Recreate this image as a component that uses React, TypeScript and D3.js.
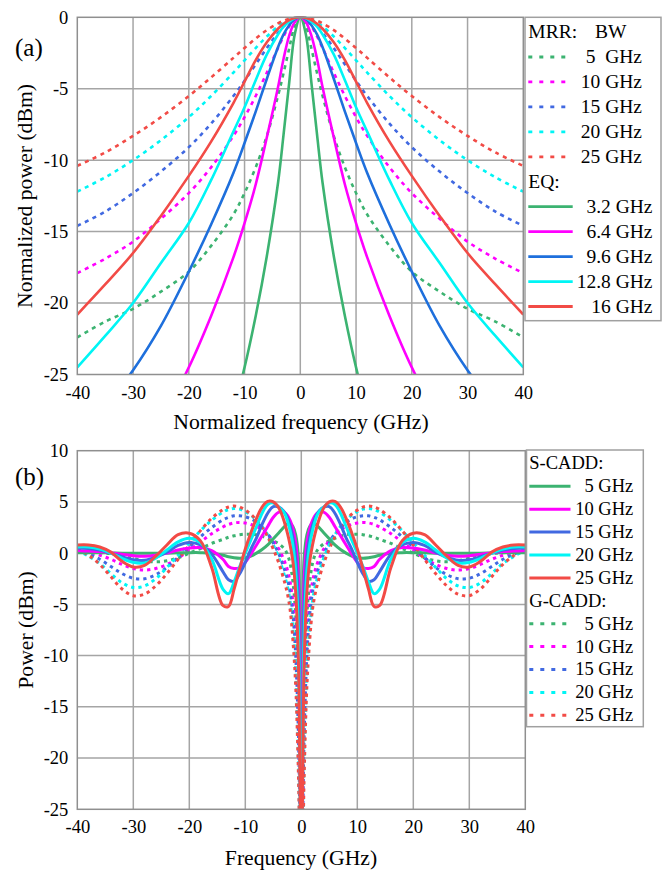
import React, { useEffect, useRef } from 'react';
import * as d3 from 'd3';

// ---- panel (a): normalized power vs normalized frequency ----
const freqA = [-40, -35, -30, -25, -20, -16, -12, -10, -8, -6, -4, -3, -2, -1, 0, 1, 2, 3, 4, 6, 8, 10, 12, 16, 20, 25, 30, 35, 40];

// MRR responses (dotted), BW 5..25 GHz
const mrr5 = [-22.4, -21.3, -20.4, -19.2, -17.8, -16.0, -13.8, -12.3, -10.5, -8.3, -5.5, -3.9, -2.2, -0.6, 0, -0.6, -2.2, -3.9, -5.5, -8.3, -10.5, -12.3, -13.8, -16.0, -17.8, -19.2, -20.4, -21.3, -22.4];
const mrr10 = [-17.9, -16.9, -15.7, -14.1, -12.3, -10.5, -8.3, -6.99, -5.51, -3.87, -2.15, -1.34, -0.64, -0.17, 0, -0.17, -0.64, -1.34, -2.15, -3.87, -5.51, -6.99, -8.3, -10.5, -12.3, -14.1, -15.7, -16.9, -17.9];
const mrr15 = [-14.6, -13.6, -12.3, -10.8, -9.09, -7.44, -5.51, -4.44, -3.3, -2.15, -1.09, -0.64, -0.3, -0.08, 0, -0.08, -0.3, -0.64, -1.09, -2.15, -3.3, -4.44, -5.51, -7.44, -9.09, -10.8, -12.3, -13.6, -14.6];
const mrr20 = [-12.2, -11.2, -10.0, -8.6, -6.99, -5.51, -3.87, -3.01, -2.15, -1.34, -0.64, -0.37, -0.17, -0.04, 0, -0.04, -0.17, -0.37, -0.64, -1.34, -2.15, -3.01, -3.87, -5.51, -6.99, -8.6, -10.0, -11.2, -12.2];
const mrr25 = [-10.4, -9.46, -8.3, -6.99, -5.51, -4.21, -2.84, -2.15, -1.49, -0.9, -0.42, -0.24, -0.11, -0.03, 0, -0.03, -0.11, -0.24, -0.42, -0.9, -1.49, -2.15, -2.84, -4.21, -5.51, -6.99, -8.3, -9.46, -10.4];

// EQ responses (solid)
const eq32 = [-44, -42, -40, -38, -35, -32, -27.5, -24.5, -20.9, -16.7, -11.6, -8.2, -4.6, -1.2, 0, -1.2, -4.6, -8.2, -11.6, -16.7, -20.9, -24.5, -27.5, -32, -35, -38, -40, -42, -44];
const eq64 = [-36, -33.5, -31, -28.2, -24.5, -20.9, -16.8, -14.4, -11.7, -8.4, -4.9, -2.9, -1.3, -0.35, 0, -0.35, -1.3, -2.9, -4.9, -8.4, -11.7, -14.4, -16.8, -20.9, -24.5, -28.2, -31, -33.5, -36];
const eq96 = [-29.5, -27.2, -24.7, -21.6, -17.8, -14.5, -10.9, -8.8, -6.6, -4.3, -2.1, -1.2, -0.55, -0.13, 0, -0.13, -0.55, -1.2, -2.1, -4.3, -6.6, -8.8, -10.9, -14.5, -17.8, -21.6, -24.7, -27.2, -29.5];
const eq128 = [-24.5, -22.3, -20.0, -17.2, -14.4, -11.4, -8.0, -6.3, -4.4, -2.6, -1.2, -0.65, -0.3, -0.07, 0, -0.07, -0.3, -0.65, -1.2, -2.6, -4.4, -6.3, -8.0, -11.4, -14.4, -17.2, -20.0, -22.3, -24.5];
const eq16 = [-20.8, -18.7, -16.5, -13.9, -11.1, -8.7, -6.0, -4.5, -3.0, -1.75, -0.8, -0.45, -0.2, -0.05, 0, -0.05, -0.2, -0.45, -0.8, -1.75, -3.0, -4.5, -6.0, -8.7, -11.1, -13.9, -16.5, -18.7, -20.8];

// ---- panel (b): power vs frequency ----
const freqB = [-40, -38, -36, -34, -32, -30, -28, -26, -24, -22, -20, -18, -16, -14, -13, -12, -11, -10, -9, -8, -7, -6, -5, -4, -3, -2.5, -2, -1.5, -1, -0.5, -0.25, 0,
  0.25, 0.5, 1, 1.5, 2, 2.5, 3, 4, 5, 6, 7, 8, 9, 10, 11, 12, 13, 14, 16, 18, 20, 22, 24, 26, 28, 30, 32, 34, 36, 38, 40];

// S-CADD (solid)
const sCadd5 = [0.05, 0.05, 0.04, 0.02, 0, 0, 0, 0, 0, 0.03, 0.05, 0.05, 0, -0.2, -0.35, -0.45, -0.5, -0.45, -0.3, 0, 0.35, 0.8, 1.4, 2.0, 2.6, 2.85, 2.9, 2.6, 1.8, -0.5, -8, -35,
  -8, -0.5, 1.8, 2.6, 2.9, 2.85, 2.6, 2.0, 1.4, 0.8, 0.35, 0, -0.3, -0.45, -0.5, -0.45, -0.35, -0.2, 0, 0.05, 0.05, 0.03, 0, 0, 0, 0, 0, 0.02, 0.04, 0.05, 0.05];
const sCadd10 = [0.25, 0.2, 0.15, 0.05, -0.1, -0.25, -0.3, -0.2, 0.0, 0.3, 0.5, 0.55, 0.25, -0.6, -1.3, -1.5, -1.4, -0.9, -0.1, 0.8, 1.7, 2.6, 3.5, 4.0, 3.95, 3.7, 3.2, 2.4, 1.0, -2.5, -14, -35,
  -14, -2.5, 1.0, 2.4, 3.2, 3.7, 3.95, 4.0, 3.5, 2.6, 1.7, 0.8, -0.1, -0.9, -1.4, -1.5, -1.3, -0.6, 0.25, 0.55, 0.5, 0.3, 0.0, -0.2, -0.3, -0.25, -0.1, 0.05, 0.15, 0.2, 0.25];
const sCadd15 = [0.5, 0.45, 0.3, 0.0, -0.35, -0.65, -0.7, -0.4, 0.1, 0.75, 1.05, 0.8, -0.1, -1.8, -2.6, -2.75, -2.0, -0.9, 0.4, 1.5, 2.8, 3.9, 4.55, 4.5, 4.0, 3.5, 2.7, 1.6, -0.3, -5, -17, -35,
  -17, -5, -0.3, 1.6, 2.7, 3.5, 4.0, 4.5, 4.55, 3.9, 2.8, 1.5, 0.4, -0.9, -2.0, -2.75, -2.6, -1.8, -0.1, 0.8, 1.05, 0.75, 0.1, -0.4, -0.7, -0.65, -0.35, 0.0, 0.3, 0.45, 0.5];
const sCadd20 = [0.6, 0.6, 0.4, 0.0, -0.5, -0.9, -0.95, -0.5, 0.3, 1.1, 1.45, 1.0, -0.6, -3.5, -3.95, -2.8, -1.3, 0.0, 1.3, 2.6, 3.9, 4.75, 4.9, 4.5, 3.9, 3.2, 2.2, 0.8, -1.8, -8, -20, -35,
  -20, -8, -1.8, 0.8, 2.2, 3.2, 3.9, 4.5, 4.9, 4.75, 3.9, 2.6, 1.3, 0.0, -1.3, -2.8, -3.95, -3.5, -0.6, 1.0, 1.45, 1.1, 0.3, -0.5, -0.95, -0.9, -0.5, 0.0, 0.4, 0.6, 0.6];
const sCadd25 = [0.8, 0.8, 0.6, 0.1, -0.8, -1.35, -1.2, -0.3, 0.8, 1.8, 1.95, 1.2, -1.4, -5.1, -5.2, -3.5, -1.5, 0.4, 2.0, 3.4, 4.5, 5.05, 5.0, 4.4, 3.0, 2.0, 0.8, -0.8, -3.8, -11, -22, -35,
  -22, -11, -3.8, -0.8, 0.8, 2.0, 3.0, 4.4, 5.0, 5.05, 4.5, 3.4, 2.0, 0.4, -1.5, -3.5, -5.2, -5.1, -1.4, 1.2, 1.95, 1.8, 0.8, -0.3, -1.2, -1.35, -0.8, 0.1, 0.6, 0.8, 0.8];

// G-CADD (dotted)
const gCadd5 = [0.15, 0.1, 0.05, -0.05, -0.25, -0.5, -0.75, -0.85, -0.75, -0.45, 0.0, 0.45, 0.95, 1.35, 1.55, 1.7, 1.8, 1.85, 1.85, 1.8, 1.65, 1.45, 1.2, 0.9, 0.4, -0.1, -1.0, -2.8, -6, -13, -22, -35,
  -22, -13, -6, -2.8, -1.0, -0.1, 0.4, 0.9, 1.2, 1.45, 1.65, 1.8, 1.85, 1.85, 1.8, 1.7, 1.55, 1.35, 0.95, 0.45, 0.0, -0.45, -0.75, -0.85, -0.75, -0.5, -0.25, -0.05, 0.05, 0.1, 0.15];
const gCadd10 = [0.25, 0.1, -0.2, -0.6, -1.1, -1.5, -1.65, -1.5, -1.1, -0.5, 0.3, 1.1, 1.9, 2.55, 2.8, 2.95, 3.0, 2.95, 2.8, 2.6, 2.3, 1.8, 1.2, 0.4, -0.8, -1.6, -2.8, -4.8, -8.5, -16, -24, -35,
  -24, -16, -8.5, -4.8, -2.8, -1.6, -0.8, 0.4, 1.2, 1.8, 2.3, 2.6, 2.8, 2.95, 3.0, 2.95, 2.8, 2.55, 1.9, 1.1, 0.3, -0.5, -1.1, -1.5, -1.65, -1.5, -1.1, -0.6, -0.2, 0.1, 0.25];
const gCadd15 = [0.3, -0.1, -0.6, -1.3, -2.0, -2.45, -2.5, -2.1, -1.4, -0.4, 0.6, 1.6, 2.5, 3.25, 3.5, 3.65, 3.65, 3.55, 3.35, 3.0, 2.5, 1.9, 1.0, -0.1, -1.6, -2.5, -3.8, -6.0, -10, -18, -26, -35,
  -26, -18, -10, -6.0, -3.8, -2.5, -1.6, -0.1, 1.0, 1.9, 2.5, 3.0, 3.35, 3.55, 3.65, 3.65, 3.5, 3.25, 2.5, 1.6, 0.6, -0.4, -1.4, -2.1, -2.5, -2.45, -2.0, -1.3, -0.6, -0.1, 0.3];
const gCadd20 = [0.3, -0.3, -1.0, -2.0, -2.9, -3.35, -3.2, -2.5, -1.4, -0.2, 1.0, 2.2, 3.2, 4.0, 4.25, 4.35, 4.3, 4.05, 3.7, 3.2, 2.6, 1.8, 0.8, -0.5, -2.2, -3.2, -4.7, -7.3, -11.5, -20, -28, -35,
  -28, -20, -11.5, -7.3, -4.7, -3.2, -2.2, -0.5, 0.8, 1.8, 2.6, 3.2, 3.7, 4.05, 4.3, 4.35, 4.25, 4.0, 3.2, 2.2, 1.0, -0.2, -1.4, -2.5, -3.2, -3.35, -2.9, -2.0, -1.0, -0.3, 0.3];
const gCadd25 = [0.4, -0.2, -1.1, -2.3, -3.5, -4.15, -4.0, -3.2, -2.0, -0.6, 0.8, 2.2, 3.4, 4.25, 4.5, 4.6, 4.5, 4.2, 3.8, 3.2, 2.5, 1.6, 0.4, -1.0, -2.8, -3.9, -5.5, -8.5, -13, -22, -30, -35,
  -30, -22, -13, -8.5, -5.5, -3.9, -2.8, -1.0, 0.4, 1.6, 2.5, 3.2, 3.8, 4.2, 4.5, 4.6, 4.5, 4.25, 3.4, 2.2, 0.8, -0.6, -2.0, -3.2, -4.0, -4.15, -3.5, -2.3, -1.1, -0.2, 0.4];

// ticks and legend labels
const xTicks = [-40, -30, -20, -10, 0, 10, 20, 30, 40];
const yTicksA = [0, -5, -10, -15, -20, -25];
const yTicksB = [10, 5, 0, -5, -10, -15, -20, -25];
const mrrLabels = ['5  GHz', '10 GHz', '15 GHz', '20 GHz', '25 GHz'];
const eqLabels = ['3.2 GHz', '6.4 GHz', '9.6 GHz', '12.8 GHz', '16 GHz'];
const caddLabels = ['5 GHz', '10 GHz', '15 GHz', '20 GHz', '25 GHz'];

const colors = ['#3cb371', '#ff00ff', '#4169e1', '#00f5f5', '#f24b46'];
const eqColors = ['#3cb371', '#ff00ff', '#1e6fdc', '#00f5f5', '#f24b46'];

const serif = '"Liberation Serif", "Times New Roman", serif';
const gridColor = '#a5a5a5';
const frameColor = '#8f8f8f';

type Line = { values: number[]; color: string; dotted: boolean };

function drawPanel(root: any, cfg: any) {
  const { id, left, right, top, bottom, yDomain, yTicks, freq, lines, width, dash } = cfg;
  const x = d3.scaleLinear().domain([-40, 40]).range([left, right]);
  const y = d3.scaleLinear().domain(yDomain).range([bottom, top]);
  const g = root.append('g');

  g.append('g').selectAll('line').data(xTicks.slice(1, -1)).join('line')
    .attr('x1', (d: number) => x(d)).attr('x2', (d: number) => x(d))
    .attr('y1', top).attr('y2', bottom)
    .attr('stroke', gridColor).attr('stroke-width', 1.5);
  g.append('g').selectAll('line').data(yTicks.slice(1, -1)).join('line')
    .attr('x1', left).attr('x2', right)
    .attr('y1', (d: number) => y(d)).attr('y2', (d: number) => y(d))
    .attr('stroke', gridColor).attr('stroke-width', 1.5);

  root.append('clipPath').attr('id', id).append('rect')
    .attr('x', left).attr('y', top - 1).attr('width', right - left).attr('height', bottom - top + 1);

  const line = d3.line<number>()
    .x((_, i) => x(freq[i]))
    .y(d => y(d))
    .curve(d3.curveCatmullRom.alpha(0.5));

  const plot = g.append('g').attr('clip-path', `url(#${id})`);
  lines.forEach((s: Line) => {
    plot.append('path')
      .attr('d', line(s.values))
      .attr('fill', 'none')
      .attr('stroke', s.color)
      .attr('stroke-width', width)
      .attr('stroke-dasharray', s.dotted ? dash : null);
  });

  g.append('rect')
    .attr('x', left).attr('y', top).attr('width', right - left).attr('height', bottom - top)
    .attr('fill', 'none').attr('stroke', frameColor).attr('stroke-width', 1.5);

  const xAxis = g.append('g')
    .attr('transform', `translate(0,${bottom})`)
    .call(d3.axisBottom(x).tickValues(xTicks).tickSize(0).tickPadding(11).tickFormat((d: any) => String(d)));
  xAxis.select('.domain').remove();
  xAxis.attr('font-family', serif).attr('font-size', 18.5);
  xAxis.selectAll('text').attr('fill', '#000');

  const yAxis = g.append('g')
    .attr('transform', `translate(${left},0)`)
    .call(d3.axisLeft(y).tickValues(yTicks).tickSize(0).tickPadding(9).tickFormat((d: any) => String(d)));
  yAxis.select('.domain').remove();
  yAxis.attr('font-family', serif).attr('font-size', 18.5);
  yAxis.selectAll('text').attr('fill', '#000');
}

function drawLegend(root: any, cfg: any) {
  const { x, y, w, h, base, step, size, rows, lineX0, lineX1, lineW, dash } = cfg;
  root.append('rect')
    .attr('x', x).attr('y', y).attr('width', w).attr('height', h)
    .attr('fill', '#fff').attr('stroke', '#a0a0a0').attr('stroke-width', 1.5);
  rows.forEach((r: any, i: number) => {
    const by = base + i * step;
    if (r.head) {
      r.head.forEach((t: any) => {
        root.append('text').attr('x', t.x).attr('y', by)
          .attr('font-family', serif).attr('font-size', size).text(t.text);
      });
      return;
    }
    const ly = by - size * 0.32;
    root.append('line')
      .attr('x1', lineX0).attr('x2', r.x1 ?? lineX1).attr('y1', ly).attr('y2', ly)
      .attr('stroke', r.color).attr('stroke-width', lineW)
      .attr('stroke-dasharray', r.dotted ? dash : null);
    root.append('text').attr('x', r.right).attr('y', by)
      .attr('text-anchor', 'end').attr('font-family', serif).attr('font-size', size)
      .style('white-space', 'pre').text(r.label);
  });
}

const App = () => {
  const ref = useRef<SVGSVGElement>(null);

  useEffect(() => {
    const svg = d3.select(ref.current);
    svg.selectAll('*').remove();

    // (a)
    const linesA: Line[] = [
      ...[mrr5, mrr10, mrr15, mrr20, mrr25].map((v, i) => ({ values: v, color: colors[i], dotted: true })),
      ...[eq32, eq64, eq96, eq128, eq16].map((v, i) => ({ values: v, color: eqColors[i], dotted: false })),
    ];
    drawPanel(svg, {
      id: 'clipA', left: 77.3, right: 523.3, top: 17.3, bottom: 374.5,
      yDomain: [-25, 0], yTicks: yTicksA, freq: freqA, lines: linesA,
      width: 2.6, dash: '4 4.5',
    });

    // (b)
    const linesB: Line[] = [
      ...[gCadd5, gCadd10, gCadd15, gCadd20, gCadd25].map((v, i) => ({ values: v, color: colors[i], dotted: true })),
      ...[sCadd5, sCadd10, sCadd15, sCadd20, sCadd25].map((v, i) => ({ values: v, color: colors[i], dotted: false })),
    ];
    drawPanel(svg, {
      id: 'clipB', left: 77.3, right: 525.3, top: 450.7, bottom: 809.3,
      yDomain: [-25, 10], yTicks: yTicksB, freq: freqB, lines: linesB,
      width: 3, dash: '3.3 4',
    });

    // legend (a)
    drawLegend(svg, {
      x: 525, y: 17.3, w: 136, h: 303.4, base: 38.3, step: 24.95, size: 19.5,
      lineX0: 528.3, lineX1: 568.3, lineW: 2.8, dash: '4 7',
      rows: [
        { head: [{ x: 528.3, text: 'MRR:' }, { x: 595, text: 'BW' }] },
        ...mrrLabels.map((l, i) => ({ label: l, color: colors[i], dotted: true, right: 642 })),
        { head: [{ x: 528.3, text: 'EQ:' }] },
        ...eqLabels.map((l, i) => ({ label: l, color: eqColors[i], dotted: false, right: 652.5, x1: 572.7 })),
      ],
    });

    // legend (b)
    drawLegend(svg, {
      x: 526.5, y: 450, w: 116.8, h: 276.7, base: 469.3, step: 22.9, size: 18.5,
      lineX0: 529.3, lineX1: 570.5, lineW: 3, dash: '4 7',
      rows: [
        { head: [{ x: 529.3, text: 'S-CADD:' }] },
        ...caddLabels.map((l, i) => ({ label: l, color: colors[i], dotted: false, right: 633.3 })),
        { head: [{ x: 529.3, text: 'G-CADD:' }] },
        ...caddLabels.map((l, i) => ({ label: l, color: colors[i], dotted: true, right: 633.3 })),
      ],
    });

    // titles
    const title = (t: string, x: number, y: number, rot: boolean) => {
      svg.append('text')
        .attr('transform', rot ? `translate(${x},${y}) rotate(-90)` : `translate(${x},${y})`)
        .attr('text-anchor', 'middle').attr('font-family', serif).attr('font-size', 21.7)
        .text(t);
    };
    title('Normalized frequency (GHz)', 301, 428.7, false);
    title('Normalized power (dBm)', 32, 196, true);
    title('Frequency (GHz)', 301, 865, false);
    title('Power (dBm)', 33, 630, true);

    svg.append('text').attr('x', 15).attr('y', 56.4)
      .attr('font-family', serif).attr('font-size', 25).text('(a)');
    svg.append('text').attr('x', 15).attr('y', 485.4)
      .attr('font-family', serif).attr('font-size', 25).text('(b)');
  }, []);

  return (
    <svg
      ref={ref}
      width={665}
      height={873}
      style={{ position: 'absolute', left: 0, top: 0, background: '#fff' }}
    />
  );
};

export default App;
